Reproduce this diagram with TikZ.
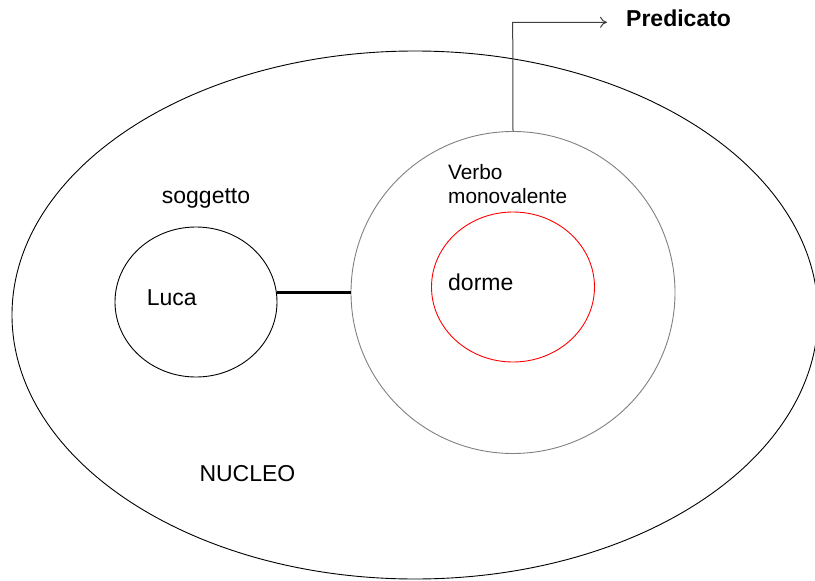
\documentclass[tikz,border=0pt]{standalone}
\usepackage{fontspec}
\setmainfont{Liberation Sans}
\usetikzlibrary{shapes.geometric,arrows.meta}
\tikzset{
  ring/.style={draw, ellipse, inner sep=0pt, line width=0.9pt},
  lbl/.style={anchor=base west, inner sep=0pt, font=\fontsize{23}{26}\selectfont},
  small/.style={anchor=base west, inner sep=0pt, font=\fontsize{20.8}{24}\selectfont},
  conn/.style={line width=2.4pt, black},
  pred/.style={line width=1pt, color=black!75, -{To[length=7pt,width=11pt]}}
}
\begin{document}
\begin{tikzpicture}[x=1pt,y=-1pt]
\useasboundingbox (0,0) rectangle (815,581);
\clip (0,0) rectangle (815,581);
\node[ring, minimum width=806pt, minimum height=528pt] (nucleo) at (415,315) {};
\node[ring, minimum width=162pt, minimum height=150pt] (luca) at (196,302) {};
\node[ring, draw=black!50, minimum width=324pt, minimum height=322pt] (verbo) at (513,292.5) {};
\node[ring, draw=red, minimum width=163pt, minimum height=150pt] (dorme) at (513,287) {};
\node[lbl] (tsog) at (161.7,203) {soggetto};
\node[lbl] (tluca) at (146.7,305.7) {Luca};
\node[small] (tverbo) at (448,179) {Verbo};
\node[small] (tmono) at (448,203) {monovalente};
\node[lbl] (tdorme) at (448,290.7) {dorme};
\node[lbl] (tnucleo) at (199.3,481.7) {NUCLEO};
\node[lbl, font=\fontsize{23}{26}\selectfont\bfseries] (tpred) at (626,26.7) {Predicato};
\coordinate (corner) at (512.7,22.3);
\coordinate (tip) at (607,22.3);
\draw[conn] (luca.east |- verbo.west) -- (verbo.west);
\draw[pred] (verbo.north) -- (corner) -- (tip);
\end{tikzpicture}
\end{document}
